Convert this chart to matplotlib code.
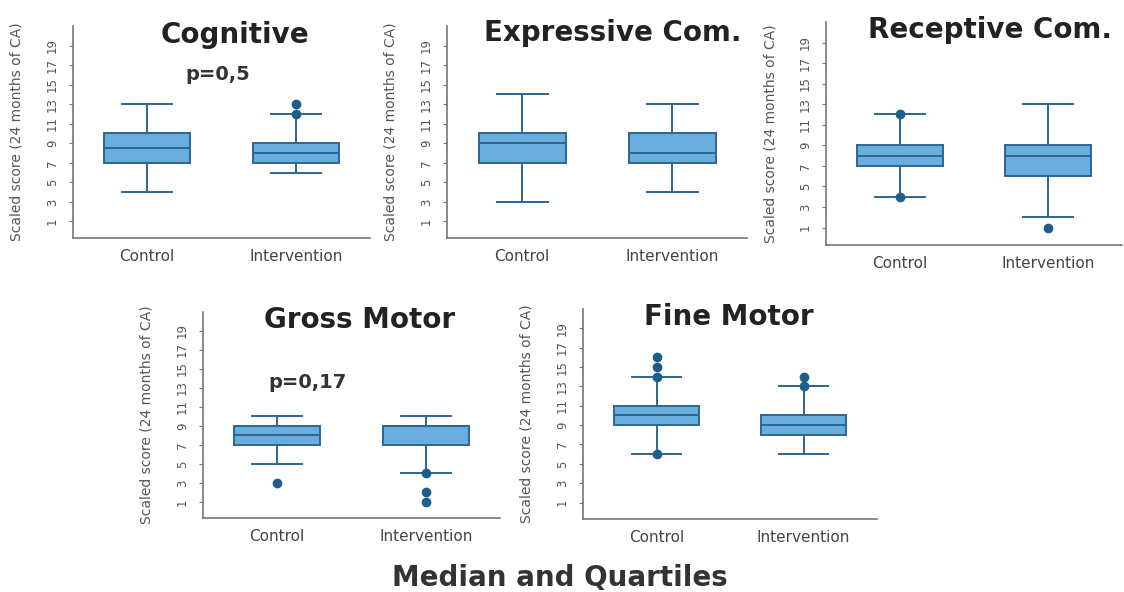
"""
Box plots of scaled scores (24 months CA), control vs intervention.

Output:
    out.png
"""

import matplotlib.pyplot as plt

# Group labels shared by every panel.
groups = ["Control", "Intervention"]

# Panel titles and p-value notes.
titles = ["Cognitive", "Expressive Com.", "Receptive Com.", "Gross Motor", "Fine Motor"]
p_notes = ["p=0,5", None, None, "p=0,17", None]

# Box statistics per panel, as [control, intervention].
q1 = [[7, 7], [7, 7], [7, 6], [7, 7], [9, 8]]
medians = [[8.5, 8], [9, 8], [8, 8], [8, 9], [10, 9]]
q3 = [[10, 9], [10, 10], [9, 9], [9, 9], [11, 10]]
whis_lo = [[4, 6], [3, 4], [4, 2], [5, 4], [6, 6]]
whis_hi = [[13, 12], [14, 13], [12, 13], [10, 10], [14, 13]]
fliers = [
    [[], [12, 13]],
    [[], []],
    [[4, 12], [1]],
    [[3], [4, 2, 1]],
    [[6, 14, 15, 16], [13, 14]],
]

y_ticks = [1, 3, 5, 7, 9, 11, 13, 15, 17, 19]

FIG_W, FIG_H = 1124, 592
# Axes boxes in pixels: left, right, bottom, top.
panel_px = [
    (73, 370, 238, 26),
    (447, 747, 238, 26),
    (826, 1122, 245, 22),
    (203, 500, 518, 312),
    (583, 877, 519, 309),
]
title_px = [(235, 35), (613, 33), (990, 30), (360, 320), (729, 317)]
note_px = [(218, 75), None, None, (308, 382), None]

FILL = "#6aaedf"
EDGE = "#2d6690"
DOT = "#1d5d8c"

fig = plt.figure(figsize=(FIG_W / 100, FIG_H / 100), dpi=100)

for i, (l, r, b, t) in enumerate(panel_px):
    ax = fig.add_axes([l / FIG_W, 1 - b / FIG_H, (r - l) / FIG_W, (b - t) / FIG_H])
    stats = []
    for g in range(2):
        stats.append(
            {
                "label": groups[g],
                "q1": q1[i][g],
                "med": medians[i][g],
                "q3": q3[i][g],
                "whislo": whis_lo[i][g],
                "whishi": whis_hi[i][g],
                "fliers": fliers[i][g],
            }
        )
    ax.bxp(
        stats,
        positions=[1, 2],
        widths=0.58,
        capwidths=0.34,
        patch_artist=True,
        showfliers=True,
        boxprops={"facecolor": FILL, "edgecolor": EDGE, "linewidth": 1.4},
        medianprops={"color": EDGE, "linewidth": 1.4},
        whiskerprops={"color": EDGE, "linewidth": 1.4},
        capprops={"color": EDGE, "linewidth": 1.4},
        flierprops={
            "marker": "o",
            "markerfacecolor": DOT,
            "markeredgecolor": DOT,
            "markersize": 6,
        },
    )

    ax.set_xlim(0.5, 2.5)
    ax.set_ylim(-0.7, 21)
    ax.set_yticks(y_ticks)
    ax.set_yticklabels([str(v) for v in y_ticks], rotation=90, va="center",
                       fontsize=8.5, color="#555555")
    ax.tick_params(axis="y", length=3, width=0.8, color="#777777", pad=7)
    ax.tick_params(axis="x", length=0, labelsize=11, labelcolor="#444444", pad=8)
    for side in ("top", "right"):
        ax.spines[side].set_visible(False)
    for side in ("left", "bottom"):
        ax.spines[side].set_color("#777777")
        ax.spines[side].set_linewidth(1.2)
    ax.set_ylabel("Scaled score (24 months of CA)", fontsize=10, color="#555555")
    ax.yaxis.set_label_coords(-49 / (r - l), 0.5)

    tx, ty = title_px[i]
    fig.text(tx / FIG_W, 1 - ty / FIG_H, titles[i], fontsize=20, fontweight="bold",
             color="#222222", ha="center", va="center")
    if p_notes[i]:
        nx, ny = note_px[i]
        fig.text(nx / FIG_W, 1 - ny / FIG_H, p_notes[i], fontsize=14, fontweight="bold",
                 color="#333333", ha="center", va="center")

fig.text(560 / FIG_W, 1 - 578 / FIG_H, "Median and Quartiles", fontsize=20,
         fontweight="bold", color="#333333", ha="center", va="center")

fig.savefig("out.png", dpi=100)
